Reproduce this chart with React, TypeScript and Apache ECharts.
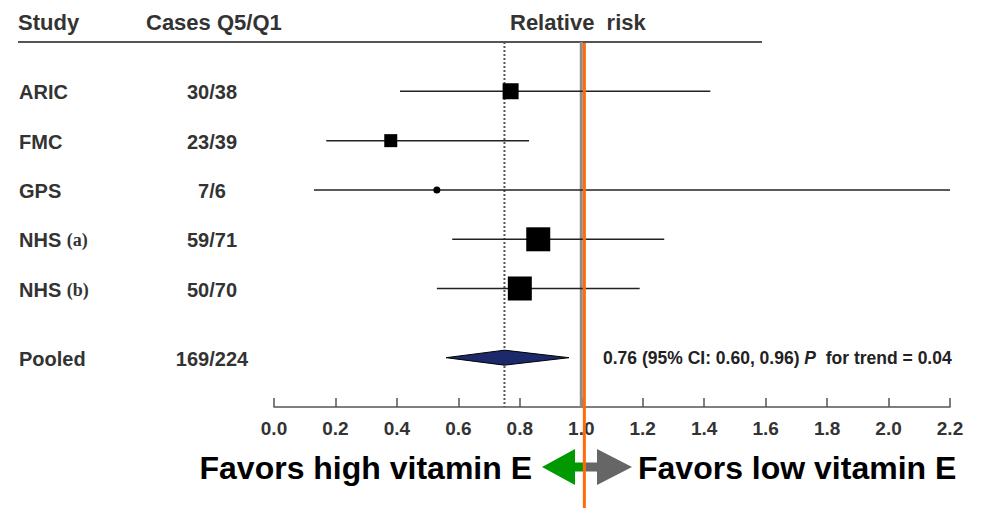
import React, { useEffect, useRef } from "react";
import * as echarts from "echarts";

const studies = ["ARIC", "FMC", "GPS", "NHS (a)", "NHS (b)"];
const cases = ["30/38", "23/39", "7/6", "59/71", "50/70"];
const rr = [0.77, 0.38, 0.53, 0.86, 0.8];
const lower = [0.41, 0.17, 0.13, 0.58, 0.53];
const upper = [1.42, 0.83, 2.2, 1.27, 1.19];
const weights = [16, 13, 7, 24, 24];
const rowPos = [1, 2, 3, 4, 5];

const pooledLabel = "Pooled";
const pooledCases = "169/224";
const pooledEst = 0.75;
const pooledLow = 0.56;
const pooledHigh = 0.96;
const pooledPos = 6.4;

const nullValue = 1.0;
const orangeValue = 1.01;
const xTicks = ["0.0", "0.2", "0.4", "0.6", "0.8", "1.0", "1.2", "1.4", "1.6", "1.8", "2.0", "2.2"];

const FONT = "Liberation Sans, Arial, Helvetica, sans-serif";
const SERIF = "Liberation Serif, Times New Roman, serif";

export default function App() {
  const ref = useRef<HTMLDivElement>(null);
  useEffect(() => {
    if (!ref.current) return;
    const chart = echarts.init(ref.current, undefined, { renderer: "svg" });
    const yMax = 7.4;
    const option: any = {
      animation: false,
      backgroundColor: "#fff",
      grid: { left: 274, right: 32, top: 42, bottom: 101, containLabel: false },
      xAxis: {
        type: "value",
        position: "bottom",
        min: 0,
        max: 2.2,
        interval: 0.2,
        axisLine: { show: true, onZero: false, lineStyle: { color: "#555", width: 1.5 } },
        axisTick: { show: true, inside: true, length: 9, lineStyle: { color: "#555", width: 1.5 } },
        splitLine: { show: false },
        axisLabel: {
          margin: 12,
          color: "#333",
          fontFamily: FONT,
          fontWeight: "bold",
          fontSize: 19,
          formatter: (v: number) => xTicks[Math.round(v / 0.2)] ?? v.toFixed(1),
        },
      },
      yAxis: { type: "value", min: 0, max: yMax, inverse: true, show: false },
      graphic: [
        { type: "line", shape: { x1: 18, y1: 42, x2: 762, y2: 42 }, style: { stroke: "#555", lineWidth: 2 } },
        { type: "text", x: 18, y: 22, style: { text: "Study", font: `bold 22px ${FONT}`, fill: "#333", textAlign: "left", textVerticalAlign: "middle" } },
        { type: "text", x: 146, y: 22, style: { text: "Cases Q5/Q1", font: `bold 22px ${FONT}`, fill: "#333", textAlign: "left", textVerticalAlign: "middle" } },
        { type: "text", x: 510, y: 22, style: { text: "Relative  risk", font: `bold 22px ${FONT}`, fill: "#333", textAlign: "left", textVerticalAlign: "middle" } },
        {
          type: "polygon",
          shape: { points: [[542, 467], [575, 449], [575, 462.5], [585, 462.5], [585, 471.5], [575, 471.5], [575, 485]] },
          style: { fill: "#009a00" },
        },
        {
          type: "polygon",
          shape: { points: [[585, 462.5], [597, 462.5], [597, 449], [632, 467], [597, 485], [597, 471.5], [585, 471.5]] },
          style: { fill: "#666666" },
        },
        { type: "text", x: 532, y: 468, style: { text: "Favors high vitamin E", font: `bold 32px ${FONT}`, fill: "#000", textAlign: "right", textVerticalAlign: "middle" } },
        { type: "text", x: 638, y: 468, style: { text: "Favors low vitamin E", font: `bold 32px ${FONT}`, fill: "#000", textAlign: "left", textVerticalAlign: "middle" } },
      ],
      series: [
        {
          type: "custom",
          name: "null line",
          z: 2,
          data: [[nullValue]],
          encode: { x: 0 },
          renderItem: (params: any, api: any) => {
            const a = api.coord([api.value(0), 0]);
            const b = api.coord([api.value(0), yMax]);
            return { type: "line", shape: { x1: a[0], y1: a[1], x2: b[0], y2: b[1] }, style: { stroke: "#8c8c8c", lineWidth: 3 } };
          },
        },
        {
          type: "custom",
          name: "pooled line",
          z: 2,
          data: [[pooledEst]],
          encode: { x: 0 },
          renderItem: (params: any, api: any) => {
            const a = api.coord([api.value(0), 0]);
            const b = api.coord([api.value(0), yMax]);
            return { type: "line", shape: { x1: a[0], y1: a[1], x2: b[0], y2: b[1] }, style: { stroke: "#555", lineWidth: 2, lineDash: [2, 2] } };
          },
        },
        {
          type: "custom",
          name: "studies",
          z: 3,
          data: studies.map((s, i) => [lower[i], upper[i], rr[i], rowPos[i], weights[i]]),
          encode: { x: [0, 1, 2], y: 3 },
          renderItem: (params: any, api: any) => {
            const lo = api.coord([api.value(0), api.value(3)]);
            const hi = api.coord([api.value(1), api.value(3)]);
            const c = api.coord([api.value(2), api.value(3)]);
            const s = api.value(4);
            return {
              type: "group",
              children: [
                { type: "line", shape: { x1: lo[0], y1: lo[1], x2: hi[0], y2: hi[1] }, style: { stroke: "#222", lineWidth: 1.5 } },
                { type: "rect", shape: { x: c[0] - s / 2, y: c[1] - s / 2, width: s, height: s, r: s < 10 ? s / 2 : 0 }, style: { fill: "#000" } },
              ],
            };
          },
        },
        {
          type: "custom",
          name: "pooled",
          z: 3,
          data: [[pooledLow, pooledEst, pooledHigh, pooledPos]],
          encode: { x: [0, 1, 2], y: 3 },
          renderItem: (params: any, api: any) => {
            const lo = api.coord([api.value(0), api.value(3)]);
            const c = api.coord([api.value(1), api.value(3)]);
            const hi = api.coord([api.value(2), api.value(3)]);
            const h = 7.5;
            return {
              type: "polygon",
              shape: { points: [lo, [c[0], c[1] - h], hi, [c[0], c[1] + h]] },
              style: { fill: "#1c2a6c", stroke: "#000", lineWidth: 1 },
            };
          },
        },
        {
          type: "custom",
          name: "labels",
          z: 4,
          clip: false,
          data: studies.map((s, i) => [0, rowPos[i], i]).concat([[0, pooledPos, -1]]),
          encode: { x: 0, y: 1 },
          renderItem: (params: any, api: any) => {
            const idx = api.value(2);
            const p = api.coord([0, api.value(1)]);
            const y = p[1] + 1;
            const name = idx < 0 ? pooledLabel : studies[idx];
            const cs = idx < 0 ? pooledCases : cases[idx];
            const m = name.match(/^(.*) (\(.\))$/);
            const nameEl: any = m
              ? {
                  type: "text",
                  x: 19,
                  y,
                  style: {
                    text: `{a|${m[1]} }{s|${m[2]}}`,
                    fill: "#333",
                    textAlign: "left",
                    textVerticalAlign: "middle",
                    rich: {
                      a: { fontFamily: FONT, fontWeight: "bold", fontSize: 20, fill: "#333" },
                      s: { fontFamily: SERIF, fontWeight: "bold", fontSize: 18, fill: "#333" },
                    },
                  },
                }
              : { type: "text", x: 19, y, style: { text: name, font: `bold 20px ${FONT}`, fill: "#333", textAlign: "left", textVerticalAlign: "middle" } };
            const children: any[] = [
              nameEl,
              { type: "text", x: 212, y, style: { text: cs, font: `bold 20px ${FONT}`, fill: "#333", textAlign: "center", textVerticalAlign: "middle" } },
            ];
            if (idx < 0) {
              children.push({
                type: "text",
                x: 603,
                y: y - 1,
                style: {
                  text: "{n|0.76 (95% CI: 0.60, 0.96) }{i|P}{n|  for trend = 0.04}",
                  fill: "#222",
                  textAlign: "left",
                  textVerticalAlign: "middle",
                  rich: {
                    n: { fontFamily: FONT, fontWeight: "bold", fontSize: 17.5, fill: "#222" },
                    i: { fontFamily: FONT, fontWeight: "bold", fontStyle: "italic", fontSize: 17.5, fill: "#222" },
                  },
                },
              });
            }
            return { type: "group", children };
          },
        },
        {
          type: "custom",
          name: "orange line",
          z: 10,
          clip: false,
          data: [[orangeValue]],
          encode: { x: 0 },
          renderItem: (params: any, api: any) => {
            const a = api.coord([api.value(0), 0]);
            return { type: "line", shape: { x1: a[0], y1: a[1] + 1, x2: a[0], y2: api.getHeight() }, style: { stroke: "#ff6a0a", lineWidth: 3 } };
          },
        },
      ],
    };
    chart.setOption(option);
    return () => chart.dispose();
  }, []);
  return <div ref={ref} style={{ position: "fixed", left: 0, top: 0, width: 982, height: 508, background: "#fff" }} />;
}
